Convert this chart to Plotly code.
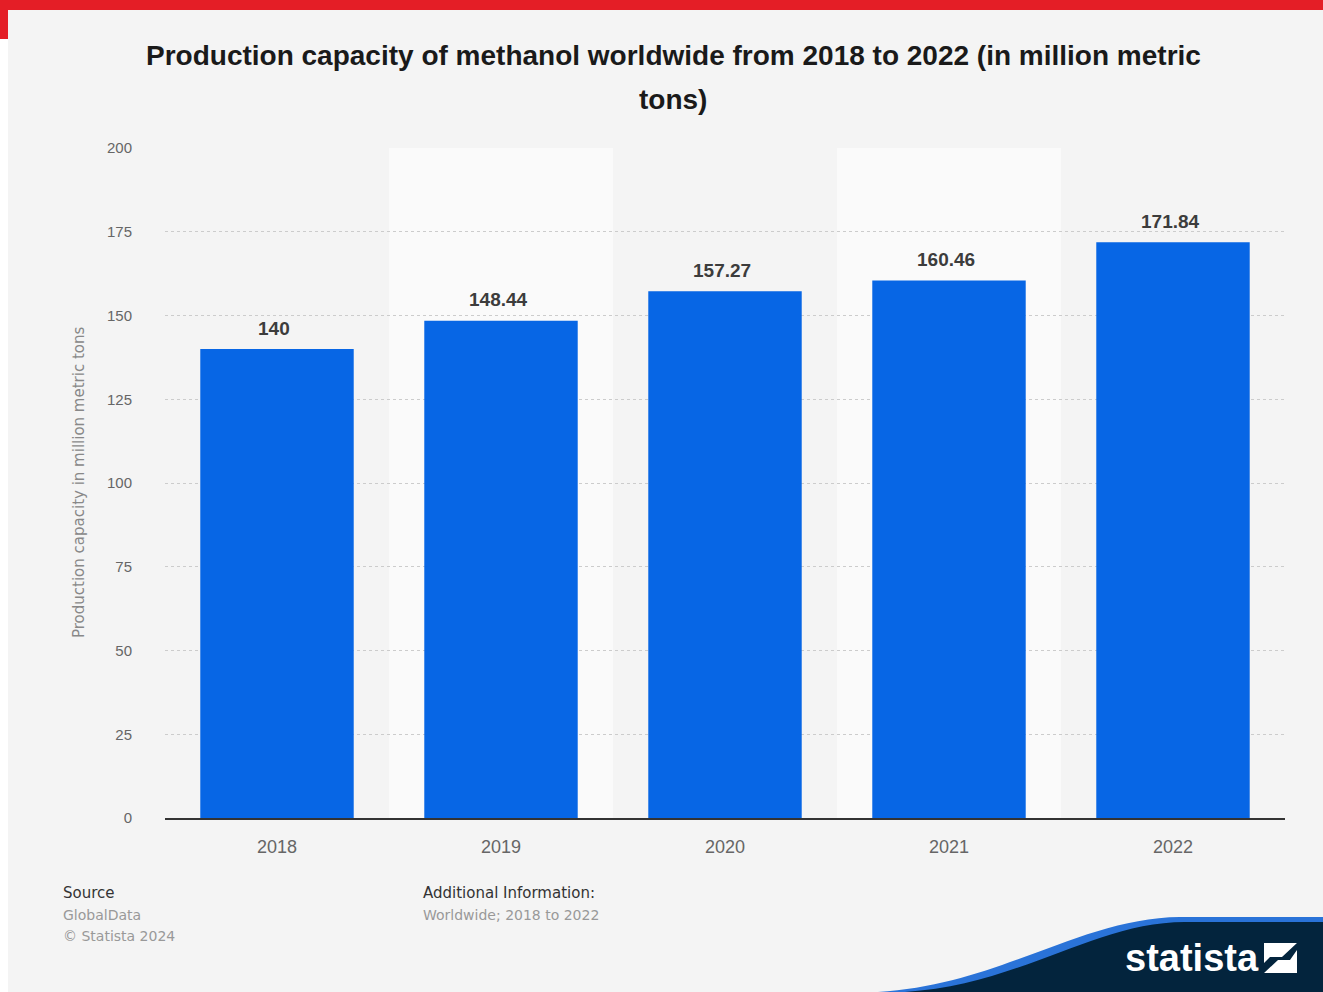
import plotly.graph_objects as go

# Data
years = ["2018", "2019", "2020", "2021", "2022"]
capacity = [140, 148.44, 157.27, 160.46, 171.84]
capacity_labels = ["140", "148.44", "157.27", "160.46", "171.84"]
y_ticks = [0, 25, 50, 75, 100, 125, 150, 175, 200]

W, H = 1323, 992
L, R, T, B = 165, 1285, 148, 818  # plot area in pixels

def px(x):
    return (x - L) / (R - L)

def py(y):
    return (B - y) / (B - T)

FONT = "Liberation Sans"
WIDE = "DejaVu Sans"
BG = "#f4f4f4"
BAR = "#0766e5"

fig = go.Figure(
    go.Bar(
        x=years,
        y=capacity,
        marker=dict(color=BAR, line=dict(width=0)),
        width=0.685,
        hoverinfo="skip",
    )
)

shapes = []
# page background with red corner accent
shapes.append(dict(type="rect", xref="paper", yref="paper", x0=px(8), x1=px(W), y0=py(10), y1=py(H),
                   fillcolor=BG, line=dict(width=0), layer="below"))
shapes.append(dict(type="rect", xref="paper", yref="paper", x0=px(0), x1=px(W), y0=py(0), y1=py(10),
                   fillcolor="#e41e26", line=dict(width=0)))
shapes.append(dict(type="rect", xref="paper", yref="paper", x0=px(0), x1=px(8), y0=py(0), y1=py(39),
                   fillcolor="#e41e26", line=dict(width=0)))

# alternating column bands
for i in (1, 3):
    shapes.append(dict(type="rect", xref="x", yref="paper", x0=i - 0.5, x1=i + 0.5, y0=0, y1=1,
                       fillcolor="#fafafa", line=dict(width=0), layer="below"))

def pt(x, y):
    return f"{px(x):.5f},{py(y):.5f}"

# logo swoosh in the bottom-right corner
blue_path = ("M " + pt(878, H) + " C " + pt(1000, 985) + " " + pt(1080, 918) + " " + pt(1180, 917)
             + " L " + pt(W, 917) + " L " + pt(W, H) + " Z")
navy_path = ("M " + pt(905, H) + " C " + pt(1020, 985) + " " + pt(1095, 922) + " " + pt(1185, 922)
             + " L " + pt(W, 922) + " L " + pt(W, H) + " Z")
shapes.append(dict(type="path", xref="paper", yref="paper", path=blue_path,
                   fillcolor="#2a73d8", line=dict(width=0)))
shapes.append(dict(type="path", xref="paper", yref="paper", path=navy_path,
                   fillcolor="#03243d", line=dict(width=0)))
# logo mark: white square split by a diagonal stroke
icon_a = "M " + pt(1264, 943) + " L " + pt(1297, 943) + " L " + pt(1282, 957) + " L " + pt(1270, 957) + " L " + pt(1264, 963) + " Z"
icon_b = "M " + pt(1297, 950) + " L " + pt(1297, 973) + " L " + pt(1264, 973) + " L " + pt(1278, 960) + " L " + pt(1290, 960) + " Z"
shapes.append(dict(type="path", xref="paper", yref="paper", path=icon_a, fillcolor="white", line=dict(width=0)))
shapes.append(dict(type="path", xref="paper", yref="paper", path=icon_b, fillcolor="white", line=dict(width=0)))

annotations = []

# value labels above the bars (category axis positions are serial indices)
for i, (val, lab) in enumerate(zip(capacity, capacity_labels)):
    annotations.append(dict(text=lab, x=i, y=val, xref="x", yref="y", xanchor="center", yanchor="middle",
                            yshift=21, xshift=-3, showarrow=False,
                            font=dict(family=FONT, size=19, color="#3c3c3c", weight="bold")))

def note(text, x, y, size, color, xanchor="left", weight="normal", textangle=0, family=FONT):
    annotations.append(dict(text=text, xref="paper", yref="paper", x=px(x), y=py(y),
                            xanchor=xanchor, yanchor="middle", showarrow=False, textangle=textangle,
                            font=dict(family=family, size=size, color=color, weight=weight)))

note("Production capacity of methanol worldwide from 2018 to 2022 (in million metric", 673, 56, 28, "#1a1a1a",
     xanchor="center", weight="bold")
note("tons)", 673, 99, 28, "#1a1a1a", xanchor="center", weight="bold")
note("Production capacity in million metric tons", 79, 483, 15, "#888888", xanchor="center", textangle=-90,
     family=WIDE)
note("Source", 61, 893, 15, "#333333", family=WIDE)
note("GlobalData", 61, 915, 14, "#999999", family=WIDE)
note("© Statista 2024", 61, 936, 14, "#999999", family=WIDE)
note("Additional Information:", 421, 893, 15, "#333333", family=WIDE)
note("Worldwide; 2018 to 2022", 421, 915, 14, "#999999", family=WIDE)
note("statista", 1192, 958, 38, "white", xanchor="center", weight="bold")

fig.update_layout(
    width=W,
    height=H,
    margin=dict(l=L, r=W - R, t=T, b=H - B, pad=0),
    paper_bgcolor="white",
    plot_bgcolor=BG,
    showlegend=False,
    shapes=shapes,
    annotations=annotations,
    xaxis=dict(
        type="category",
        showgrid=False,
        showline=True,
        linecolor="#333333",
        linewidth=2,
        ticks="",
        tickfont=dict(family=FONT, size=18, color="#666666"),
        ticklabelstandoff=11,
        range=[-0.5, 4.5],
        fixedrange=True,
    ),
    yaxis=dict(
        range=[0, 200],
        tickvals=y_ticks,
        showgrid=True,
        gridcolor="#cccccc",
        griddash="dot",
        gridwidth=1,
        zeroline=False,
        showline=False,
        ticks="",
        tickfont=dict(family=FONT, size=15, color="#666666"),
        ticklabelstandoff=32,
        fixedrange=True,
    ),
)

fig.write_html("out.html")
